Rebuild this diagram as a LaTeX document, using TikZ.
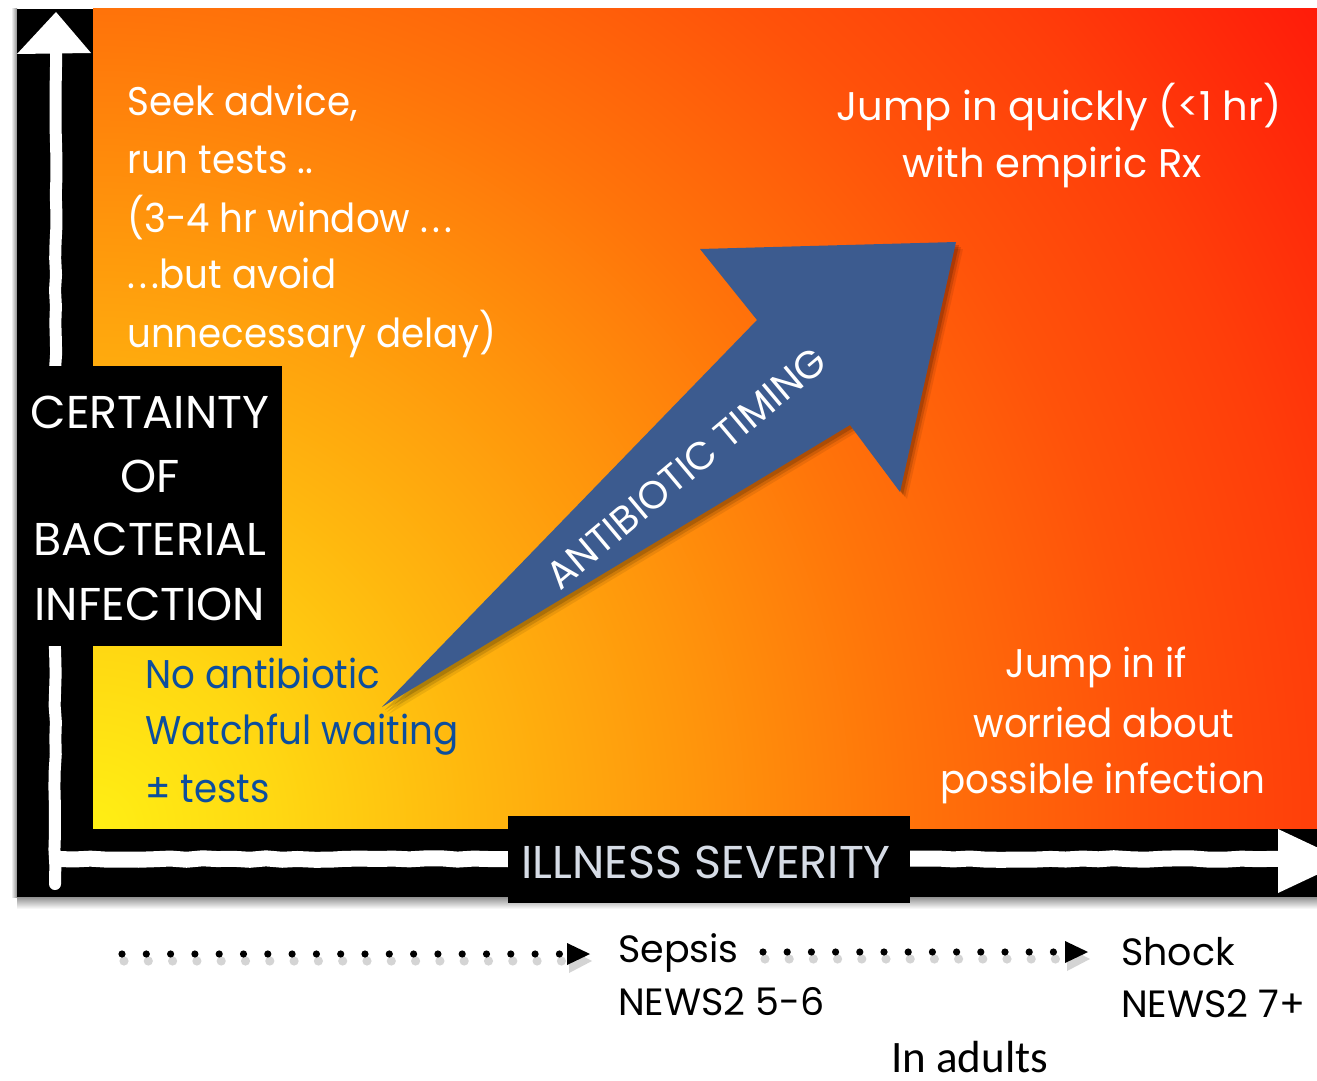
\documentclass[tikz,border=0pt]{standalone}
\usepackage{fontspec}
\setmainfont{Poppins}
\newfontfamily\geofont[FakeStretch=0.93]{Poppins}
\newfontfamily\capfont[FakeStretch=1.0]{Poppins}
\newfontfamily\calfont{Carlito}
\usetikzlibrary{decorations.pathmorphing}

% open, widely spaced ellipsis
\newcommand{\wideell}{.\kern4.5pt.\kern4.5pt.}

% heat field colours, from the origin corner outwards
\definecolor{heat0}{HTML}{FFEF14}
\definecolor{heat1}{HTML}{FFD812}
\definecolor{heat2}{HTML}{FFB60E}
\definecolor{heat3}{HTML}{FF960C}
\definecolor{heat4}{HTML}{FF740A}
\definecolor{heat5}{HTML}{FF520A}
\definecolor{heat6}{HTML}{FF3E0A}
\definecolor{heat7}{HTML}{FF1C0A}
\definecolor{arrowblue}{HTML}{3C5B8F}
\definecolor{textblue}{HTML}{0C4E9E}
\definecolor{axislabel}{HTML}{D6DCE6}

% the path's box spans the inner 50bp of the shading
\pgfdeclareradialshading{heat}{\pgfpoint{0bp}{0bp}}{%
  color(0bp)=(heat0); color(3bp)=(heat1); color(6.5bp)=(heat2);
  color(10bp)=(heat3); color(13.5bp)=(heat4); color(17.5bp)=(heat5);
  color(20.5bp)=(heat6); color(24.5bp)=(heat7); color(50bp)=(heat7)}

\begin{document}
\begin{tikzpicture}[x=1pt,y=-1pt,
  wtxt/.style={text=white, inner sep=0pt, font=\geofont\fontsize{40}{48}\selectfont},
  btxt/.style={text=textblue, inner sep=0pt, font=\geofont\fontsize{40}{48}\selectfont},
  captxt/.style={text=white, inner sep=0pt, font=\capfont\fontsize{46}{52}\selectfont},
  ktxt/.style={text=black, inner sep=0pt, font=\capfont\fontsize{38}{44}\selectfont},
  blackbox/.style={fill=black, inner sep=0pt, anchor=north west},
  rough/.style={decorate, decoration={random steps, segment length=16pt, amplitude=0.8pt}},
  dotshadow/.style={fill=black!60, opacity=.28},
]
\useasboundingbox (0,0) rectangle (1317,1081);
\clip (0,0) rectangle (1317,1081);
\fill[white] (0,0) rectangle (1317,1081);

% soft shadow round the frame
\shade[top color=black!50, bottom color=white] (17,895) rectangle (1317,909);
\shade[left color=white, right color=black!45] (11,9) rectangle (17,897);

% black frame and the heat field
\fill[black] (17,9) rectangle (1317,897);
\begin{scope}
  \clip (93,9) rectangle (1317,828);
  \shade[shading=heat] (93,828) circle [radius=1500pt];
\end{scope}

% hand-drawn white axes
\pgfmathsetseed{11}
\draw[white, line width=12pt, line cap=round, rough] (56,50) -- (55,884);
\fill[white] (17,54) -- (56,12) -- (91,53) -- cycle;
\draw[white, line width=16pt, line cap=round, rough] (58,859) -- (1284,859);
\fill[white] (1278,829) -- (1346,861) -- (1278,893) -- cycle;

% axis labels
\node[blackbox, minimum width=265pt, minimum height=280pt] (certbox) at (17,366) {};
\node[captxt, anchor=base] (cert1) at (150,428) {CERTAINTY};
\node[captxt, anchor=base] (cert2) at (150,492) {OF};
\node[captxt, anchor=base] (cert3) at (150,555) {BACTERIAL};
\node[captxt, anchor=base] (cert4) at (150,620) {INFECTION};

\node[blackbox, minimum width=402pt, minimum height=87pt] (sevbox) at (508,816) {};
\node[captxt, text=axislabel, anchor=base] (sev) at (706,878) {ILLNESS SEVERITY};

% antibiotic timing arrow
\coordinate (tail) at (382,707);
\coordinate (nk1) at (757,320);
\coordinate (bb1) at (700,249);
\coordinate (tip) at (956,242);
\coordinate (bb2) at (900,492);
\coordinate (nk2) at (850,425);
\foreach \s/\o in {7/.08,5/.12,3/.16} {
  \fill[black, opacity=\o] ([shift={(\s,\s)}]tail) -- ([shift={(\s,\s)}]nk1) -- ([shift={(\s,\s)}]bb1)
    -- ([shift={(\s,\s)}]tip) -- ([shift={(\s,\s)}]bb2) -- ([shift={(\s,\s)}]nk2) -- cycle;
}
\fill[arrowblue] (tail) -- (nk1) -- (bb1) -- (tip) -- (bb2) -- (nk2) -- cycle;
\node[rotate=40, text=white, inner sep=0pt, font=\capfont\fontsize{39}{44}\selectfont]
  (timing) at (686,468) {ANTIBIOTIC TIMING};

% quadrant notes
\node[wtxt, anchor=base west] (ul1) at (127,115) {Seek advice,};
\node[wtxt, anchor=base west] (ul2) at (127,173) {run tests ..};
\node[wtxt, anchor=base west] (ul3) at (127,232) {(3-4 hr window \wideell};
\node[wtxt, anchor=base west] (ul4) at (127,288) {\wideell but avoid};
\node[wtxt, anchor=base west] (ul5) at (127,347) {unnecessary delay)};

\node[wtxt, font=\capfont\fontsize{40}{48}\selectfont, anchor=base] (ur1) at (1059,120) {Jump in quickly (<1 hr)};
\node[wtxt, font=\capfont\fontsize{40}{48}\selectfont, anchor=base] (ur2) at (1052,177) {with empiric Rx};

\node[wtxt, anchor=base] (lr1) at (1096,677) {Jump in if};
\node[wtxt, anchor=base] (lr2) at (1104,737) {worried about};
\node[wtxt, anchor=base] (lr3) at (1103,793) {possible infection};

\node[btxt, anchor=base west] (ll1) at (145,688) {No antibiotic};
\node[btxt, anchor=base west] (ll2) at (145,744) {Watchful waiting};
\node[btxt, anchor=base west] (ll3) at (145,802) {± tests};

% severity scale below the axis
\node[ktxt, anchor=base west] (sepsis) at (618,962) {Sepsis};
\node[ktxt, anchor=base west] (news56) at (618,1015) {NEWS2 5-6};
\node[ktxt, anchor=base west] (shock) at (1121,965) {Shock};
\node[ktxt, anchor=base west] (news7) at (1121,1017) {NEWS2 7+};
\node[text=black, inner sep=0pt, text depth=0pt, anchor=base west, font=\calfont\fontsize{45}{50}\selectfont]
  (adults) at (891,1072) {In adults};

\foreach \i in {0,...,18} {
  \fill[dotshadow] ({124+24.3*\i},{961}) circle [radius=4.6pt];
  \fill[black] ({122+24.3*\i},{954}) circle [radius=3.6pt];
}
\fill[dotshadow] (569,949) -- (592,961) -- (569,973) -- cycle;
\fill[black] (567,943) -- (590,954) -- (567,965) -- cycle;

\foreach \i in {0,...,12} {
  \fill[dotshadow] ({765+24.2*\i},{959}) circle [radius=4.6pt];
  \fill[black] ({763+24.2*\i},{952}) circle [radius=3.6pt];
}
\fill[dotshadow] (1067,947) -- (1090,959) -- (1067,971) -- cycle;
\fill[black] (1065,941) -- (1088,952) -- (1065,963) -- cycle;
\end{tikzpicture}
\end{document}
